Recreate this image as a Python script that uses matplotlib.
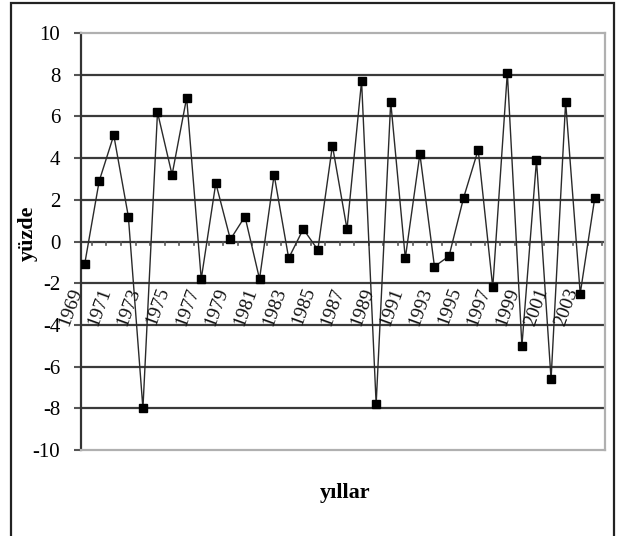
import matplotlib
matplotlib.use("Agg")
import matplotlib.pyplot as plt
from matplotlib.patches import Rectangle

plt.rcParams['font.family'] = ['Liberation Serif', 'DejaVu Serif']

years = list(range(1969, 2005))
values = [-1.1, 2.9, 5.1, 1.2, -8.0, 6.2, 3.2, 6.9, -1.8, 2.8,
          0.1, 1.2, -1.8, 3.2, -0.8, 0.6, -0.4, 4.6, 0.6, 7.7,
          -7.8, 6.7, -0.8, 4.2, -1.2, -0.7, 2.1, 4.4, -2.2, 8.1,
          -5.0, 3.9, -6.6, 6.7, -2.5, 2.1]
tick_years = years[::2]
y_ticks = list(range(-10, 11, 2))

fig = plt.figure(figsize=(6.2, 5.36), dpi=100)
ax = fig.add_axes([0.1306, 0.1604, 0.9758 - 0.1306, 0.9384 - 0.1604])

x = list(range(len(years)))

# horizontal gridlines
for v in y_ticks:
    if v in (-10, 10):
        continue
    ax.axhline(v, color='#3a3a3a', lw=1.6, zorder=1)

ax.plot(x, values, color='#2a2a2a', lw=1.0, marker='s', markersize=6,
        markerfacecolor='black', markeredgecolor='black', zorder=3)

ax.set_xlim(-0.25, 35.7)
ax.set_ylim(-10, 10)

for side in ('top', 'right', 'bottom'):
    ax.spines[side].set_color('#b0b0b0')
    ax.spines[side].set_linewidth(1.6)
ax.spines['left'].set_color('#333333')
ax.spines['left'].set_linewidth(1.6)

ax.set_yticks(y_ticks)
ax.set_yticklabels([str(v) for v in y_ticks], fontsize=15)
ax.tick_params(axis='y', length=5, width=1.5, color='#555555', pad=10)

# x axis crosses at zero: small tick marks between categories
ax.set_xticks([])
for b in range(len(years)):
    ax.plot([b + 0.5, b + 0.5], [0, -0.15], color='#555555', lw=1.2, zorder=2)

# rotated year labels
for yr in tick_years:
    i = years.index(yr)
    ax.text(i + 0.05, -2.1, str(yr), rotation=70, ha='right', va='top',
            fontsize=14, color='#111111', zorder=4)

fig.text(0.045, 0.565, 'yüzde', rotation=90, ha='center', va='center',
         fontsize=16, fontweight='bold')
fig.text(0.556, 0.08, 'yıllar', ha='center', va='center',
         fontsize=16, fontweight='bold')

# outer frame
fig.patches.append(Rectangle((11 / 620, -0.02), (614 - 11) / 620, 1 - 2.5 / 536 + 0.02,
                             transform=fig.transFigure, fill=False,
                             edgecolor='#222222', lw=1.6))

fig.savefig('out.png', dpi=100)
